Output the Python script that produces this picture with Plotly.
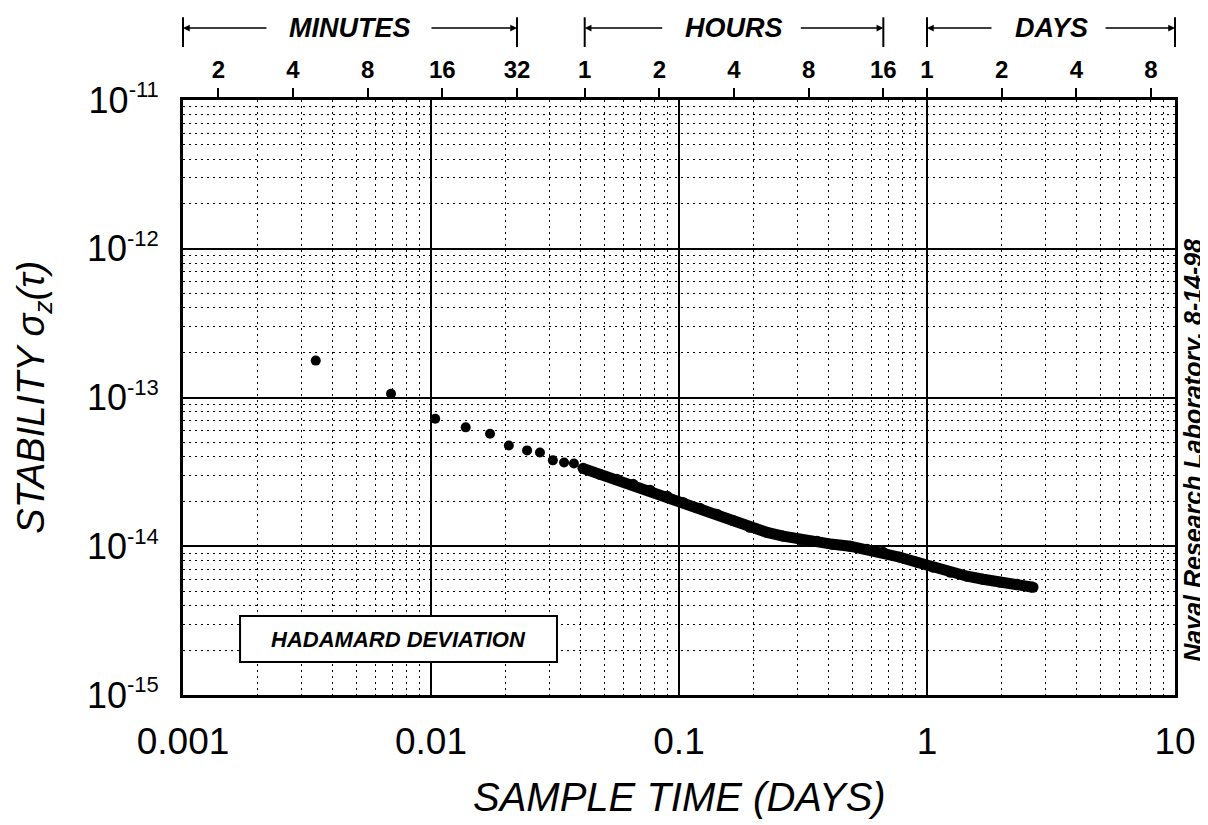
import math
import plotly.graph_objects as go

# Hadamard deviation (tau in days)
tau_sparse = [0.00343, 0.0069, 0.0104, 0.0138, 0.0173, 0.0206, 0.0244, 0.0275, 0.0310, 0.0344, 0.0377]
sigma_sparse = [1.77e-13, 1.06e-13, 7.2e-14, 6.3e-14, 5.7e-14, 4.76e-14, 4.41e-14, 4.27e-14, 3.78e-14, 3.66e-14, 3.60e-14]

tau_dense = [0.0410, 0.0480, 0.0562, 0.0653, 0.0764, 0.0895, 0.1038, 0.1215, 0.1423, 0.1651,
             0.1933, 0.2263, 0.2627, 0.3076, 0.3601, 0.4178, 0.4892, 0.5728, 0.6647, 0.7783,
             0.9114, 1.057, 1.238, 1.450, 1.682, 1.970, 2.307, 2.676]
sigma_dense = [3.34e-14, 3.04e-14, 2.82e-14, 2.61e-14, 2.38e-14, 2.17e-14, 1.97e-14, 1.80e-14, 1.64e-14, 1.49e-14,
               1.34e-14, 1.24e-14, 1.17e-14, 1.11e-14, 1.08e-14, 1.03e-14, 1.00e-14, 9.55e-15, 9.12e-15, 8.44e-15,
               7.81e-15, 7.23e-15, 6.69e-15, 6.29e-15, 6.00e-15, 5.73e-15, 5.56e-15, 5.30e-15]

x_ticks = [0.001, 0.01, 0.1, 1, 10]
x_labels = ["0.001", "0.01", "0.1", "1", "10"]
y_exps = [15, 14, 13, 12, 11]

# top axis: minutes / hours / days
top_minutes = [2, 4, 8, 16, 32]
top_hours = [1, 2, 4, 8, 16]
top_days = [1, 2, 4, 8]

# bracket headers: (label, start day, end day, left gap px, right gap px)
brackets = [("MINUTES", 0.001, 32 / 1440, 85, 87),
            ("HOURS", 1 / 24, 16 / 24, 79, 84),
            ("DAYS", 1.0, 10.0, 66, 71)]

FONT = "Liberation Sans, Arial, sans-serif"

top_vals = [m / 1440 for m in top_minutes] + [h / 24 for h in top_hours] + top_days
top_text = [str(v) for v in top_minutes + top_hours + top_days]


def xp(v):
    # day value -> paper x (axis range is 1e-3 .. 1e1)
    return (math.log10(v) + 3) / 4


fig = go.Figure()

fig.add_trace(go.Scatter(
    x=tau_dense, y=sigma_dense, mode="lines+markers",
    line=dict(color="black", width=11),
    marker=dict(color="black", size=11),
    hoverinfo="skip", showlegend=False))

fig.add_trace(go.Scatter(
    x=tau_sparse, y=sigma_sparse, mode="markers", xaxis="x2",
    marker=dict(color="black", size=10),
    showlegend=False))

grid_minor = dict(dtick="D1", showgrid=True, griddash="2px,4px", gridcolor="black", gridwidth=1.4, ticks="")

fig.update_layout(
    width=1200, height=817,
    margin=dict(l=175, r=33, t=92, b=130),
    paper_bgcolor="white", plot_bgcolor="white",
    font=dict(family=FONT, color="black"),
    xaxis=dict(type="log", range=[-3, 1], tickvals=x_ticks, ticktext=x_labels,
               tickfont=dict(size=37), ticks="", ticklabelstandoff=12,
               showgrid=True, gridcolor="black", gridwidth=2, minor=grid_minor,
               showline=True, linecolor="black", linewidth=3, mirror=True, zeroline=False),
    xaxis2=dict(type="log", range=[-3, 1], overlaying="x", side="top", matches="x",
                tickvals=top_vals, ticktext=top_text,
                tickfont=dict(size=24, weight="bold"),
                ticks="outside", ticklen=11, tickwidth=2, tickcolor="black",
                showgrid=False, showline=False),
    yaxis=dict(type="log", range=[-15, -11],
               tickvals=[10.0 ** -e for e in y_exps],
               ticktext=[f"10<sup><span style='font-size:22px'>-{e}</span></sup>" for e in y_exps],
               tickfont=dict(size=36), ticks="", ticklabelstandoff=14,
               showgrid=True, gridcolor="black", gridwidth=2, minor=grid_minor,
               showline=True, linecolor="black", linewidth=3, mirror=True, zeroline=False),
)

ann = [
    dict(text="<i>SAMPLE TIME (DAYS)</i>", x=0.5, y=-0.171, xref="paper", yref="paper",
         showarrow=False, font=dict(size=40), xanchor="center", yanchor="middle"),
    dict(text="<i>STABILITY σ<sub>z</sub>(τ)</i>", x=-0.151, y=0.5, xref="paper", yref="paper",
         showarrow=False, font=dict(size=38), textangle=-90, xanchor="center", yanchor="middle"),
    dict(text="<b><i>Naval Research Laboratory, 8-14-98</i></b>", x=1.018, y=0.412,
         xref="paper", yref="paper", showarrow=False, font=dict(size=25), textangle=-90,
         xanchor="center", yanchor="middle"),
    dict(text="<b><i>HADAMARD DEVIATION</i></b>", x=0.2175, y=0.094, xref="paper", yref="paper",
         showarrow=False, font=dict(size=22), xanchor="center", yanchor="middle"),
]

shapes = [dict(type="rect", xref="paper", yref="paper", x0=0.0575, x1=0.377, y0=0.0555, y1=0.1328,
               fillcolor="white", line=dict(color="black", width=2), layer="above")]

yb = 1.121
for label, a, b, gl, gr in brackets:
    xa, xb = xp(a), xp(b)
    ann.append(dict(text=f"<b><i>{label}</i></b>", x=(xa + xb) / 2, y=yb, xref="paper", yref="paper",
                    showarrow=False, font=dict(size=27), xanchor="center", yanchor="middle"))
    for xe, gap in ((xa, gl), (xb, -gr)):
        ann.append(dict(text="", x=xe, y=yb, xref="paper", yref="paper", ax=gap, ay=0,
                        showarrow=True, arrowhead=2, arrowsize=0.9, arrowwidth=1.5, arrowcolor="black"))
        shapes.append(dict(type="line", xref="paper", yref="paper", x0=xe, x1=xe, y0=1.089, y1=1.139,
                           line=dict(color="black", width=2)))

fig.update_layout(annotations=ann, shapes=shapes)

fig.write_html("out.html")
